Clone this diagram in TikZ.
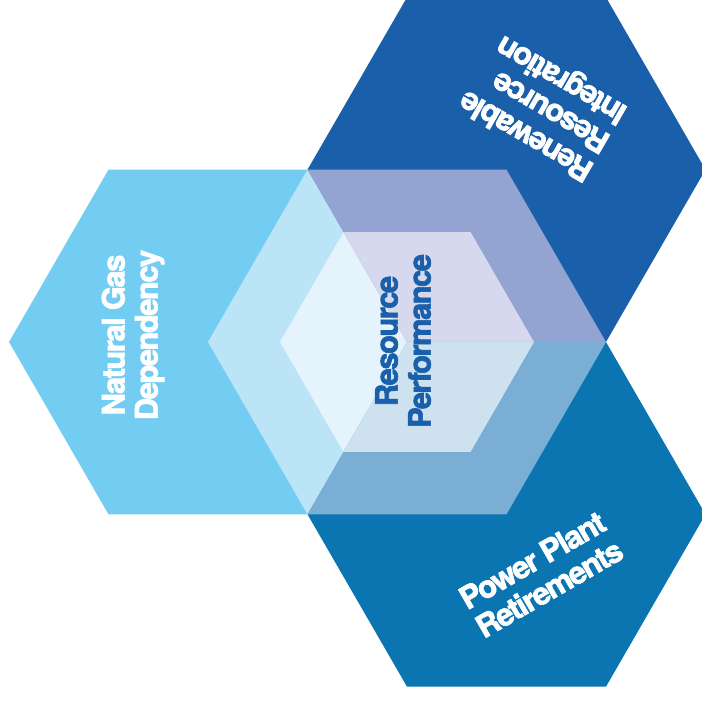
\documentclass[tikz,border=0pt]{standalone}
\usepackage{fontspec}
\setmainfont{TeX Gyre Heros}
\newfontfamily\hexfont{TeX Gyre Heros}[BoldFont={TeX Gyre Heros Bold},
  BoldFeatures={FakeBold=2}, LetterSpace=-5]
\usepackage{tikz}
\usetikzlibrary{positioning}

\definecolor{gasblue}{HTML}{73CDF3}
\definecolor{gasmid}{HTML}{BCE4F7}
\definecolor{gasin}{HTML}{E4F3FC}
\definecolor{renewblue}{HTML}{1A5FA9}
\definecolor{renewmid}{HTML}{93A3D2}
\definecolor{renewin}{HTML}{D6D9EE}
\definecolor{retireblue}{HTML}{0A75B1}
\definecolor{retiremid}{HTML}{7BAED4}
\definecolor{retirein}{HTML}{CEE1EF}

\begin{document}
\begin{tikzpicture}[x=1pt,y=1pt,
    hexlabel/.style={font=\hexfont\bfseries\fontsize{31}{33}\selectfont,text=white,inner sep=0pt}]
    \useasboundingbox (-407,-359) rectangle (295,342);

    \coordinate (core)   at (0,0);
    \coordinate (gas)    at (180:199);
    \coordinate (renew)  at (60:199);
    \coordinate (retire) at (300:199);

    \foreach \c/\col in {gas/gasblue, renew/renewblue, retire/retireblue}
      \fill[\col, shift={(\c)}] (0:199) -- (60:199) -- (120:199) -- (180:199)
        -- (240:199) -- (300:199) -- cycle;

    \foreach \a/\mid/\inner in {120/gasmid/gasin, 0/renewmid/renewin, 240/retiremid/retirein} {
      \fill[\mid]   (core) -- (\a:199) -- (\a+60:199) -- (\a+120:199) -- cycle;
      \fill[\inner] (core) -- (\a:127) -- (\a+60:127) -- (\a+120:127) -- cycle;
    }

    \node[hexlabel, align=center, rotate=90] (gastext) at (-274,7) {Natural Gas\\Dependency};
    \node[hexlabel, align=left, rotate=150] (renewtext) at (60:273) {Renewable\\Resource\\Integration};
    \node[hexlabel, align=left, rotate=30] (retiretext) at (300:268) {Power Plant\\Retirements};
    \node[hexlabel, align=center, rotate=90, text=renewblue] (coretext) at (-4,1) {Resource\\Performance};
\end{tikzpicture}
\end{document}
